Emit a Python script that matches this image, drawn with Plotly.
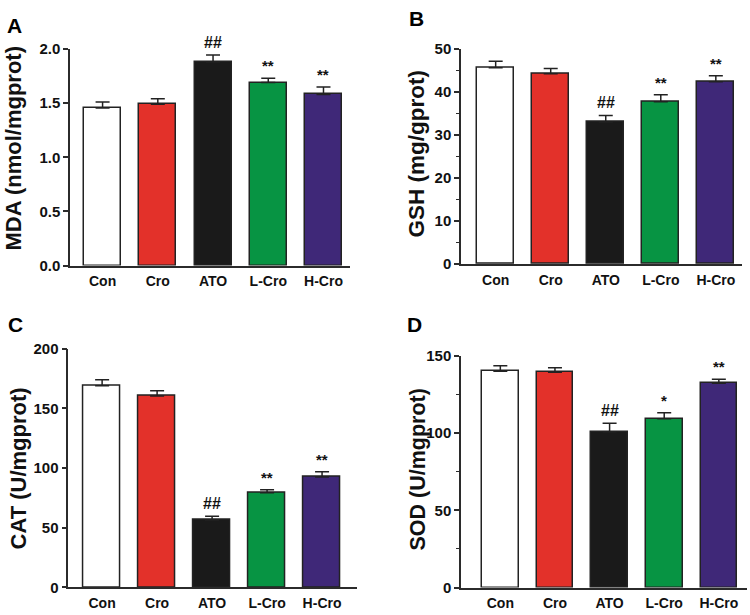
import plotly.graph_objects as go

groups = ["Con", "Cro", "ATO", "L-Cro", "H-Cro"]
colors = ["#FFFFFF", "#E3312A", "#1A1A1A", "#079443", "#3F2878"]

mda_mean = [1.455, 1.49, 1.88, 1.69, 1.58]
mda_sem = [0.055, 0.05, 0.065, 0.04, 0.07]
mda_sig = ["", "", "##", "**", "**"]

gsh_mean = [45.6, 44.2, 33.0, 37.7, 42.3]
gsh_sem = [1.5, 1.2, 1.5, 1.6, 1.4]
gsh_sig = ["", "", "##", "**", "**"]

cat_mean = [169.0, 160.3, 56.4, 79.3, 92.5]
cat_sem = [5.0, 4.5, 3.1, 2.5, 4.4]
cat_sig = ["", "", "##", "**", "**"]

sod_mean = [140.1, 139.4, 100.9, 109.3, 132.3]
sod_sem = [3.6, 3.0, 5.6, 3.9, 2.6]
sod_sig = ["", "", "##", "*", "**"]

W, H = 750, 615
FONT = "Liberation Sans, Arial, sans-serif"
AX = "#2b2b2b"

panels = [
    dict(letter="A", title="MDA (nmol/mgprot)", m=mda_mean, s=mda_sem, sig=mda_sig,
         ymax=2.0, dtick=0.5, minor=None, fmt=".1f", xpx=(70, 350), ypx=(49, 265.5),
         xr=(-0.59, 4.48), tpos=(12.5, 149), tsize=22, lpos=(14, 25)),
    dict(letter="B", title="GSH (mg/gprot)", m=gsh_mean, s=gsh_sem, sig=gsh_sig,
         ymax=50, dtick=10, minor=5, fmt="d", xpx=(461, 741.7), ypx=(48.7, 264),
         xr=(-0.63, 4.47), tpos=(416.5, 154), tsize=22.5, lpos=(416, 19)),
    dict(letter="C", title="CAT (U/mgprot)", m=cat_mean, s=cat_sem, sig=cat_sig,
         ymax=200, dtick=50, minor=None, fmt="d", xpx=(68.3, 356.7), ypx=(348.7, 587.3),
         xr=(-0.615, 4.63), tpos=(17.5, 469), tsize=22, lpos=(15.5, 324)),
    dict(letter="D", title="SOD (U/mgprot)", m=sod_mean, s=sod_sem, sig=sod_sig,
         ymax=150, dtick=50, minor=25, fmt="d", xpx=(461, 746.7), ypx=(356, 587.5),
         xr=(-0.72, 4.51), tpos=(417.5, 470), tsize=21.5, lpos=(414.5, 324.5)),
]

fig = go.Figure()
annotations = []
layout = {}

for i, p in enumerate(panels):
    k = "" if i == 0 else str(i + 1)
    xname, yname = "x" + k, "y" + k
    x_idx = list(range(len(groups)))
    fig.add_trace(go.Bar(
        x=x_idx, y=p["m"], width=0.67,
        marker=dict(color=colors, line=dict(color="#222222", width=1.5)),
        error_y=dict(type="data", symmetric=False, array=p["s"],
                     arrayminus=[0] * len(groups), color="#222222",
                     thickness=1.5, width=7),
        xaxis=xname, yaxis=yname, showlegend=False, hoverinfo="skip",
    ))
    xd = [p["xpx"][0] / W, p["xpx"][1] / W]
    yd = [(H - p["ypx"][1]) / H, (H - p["ypx"][0]) / H]
    layout["xaxis" + k] = dict(
        domain=xd, range=list(p["xr"]), anchor=yname,
        tickvals=x_idx, ticktext=groups, ticks="outside", ticklen=2,
        tickcolor="rgba(0,0,0,0)",
        tickfont=dict(family=FONT, size=14, color="#111111", weight="bold"),
        showline=True, linecolor=AX, linewidth=1.5, showgrid=False, zeroline=False,
        fixedrange=True, automargin=False,
    )
    yax = dict(
        domain=yd, range=[0, p["ymax"]], anchor=xname,
        dtick=p["dtick"], tick0=0, tickformat=p["fmt"],
        ticks="outside", ticklen=5, tickwidth=1.5, tickcolor=AX,
        tickfont=dict(family=FONT, size=15, color="#111111", weight="bold"),
        showline=True, linecolor=AX, linewidth=1.5, showgrid=False, zeroline=False,
        fixedrange=True, automargin=False,
    )
    if p["minor"]:
        yax["minor"] = dict(dtick=p["minor"], tick0=0, ticks="outside", ticklen=3,
                            tickwidth=1.2, tickcolor=AX, showgrid=False)
    layout["yaxis" + k] = yax

    for j, t in enumerate(p["sig"]):
        if t:
            is_hash = t.startswith("#")
            annotations.append(dict(
                x=j, y=p["m"][j] + p["s"][j], xref=xname, yref=yname,
                text=t, showarrow=False, xanchor="center", yanchor="bottom",
                yshift=2 if is_hash else 2,
                font=dict(family=FONT, size=16 if is_hash else 15,
                          color="#111111", weight="bold"),
            ))
    annotations.append(dict(
        x=p["tpos"][0] / W, y=(H - p["tpos"][1]) / H, xref="paper", yref="paper",
        text=p["title"], textangle=-90, showarrow=False,
        xanchor="center", yanchor="middle",
        font=dict(family=FONT, size=p["tsize"], color="#111111", weight="bold"),
    ))
    annotations.append(dict(
        x=p["lpos"][0] / W, y=(H - p["lpos"][1]) / H, xref="paper", yref="paper",
        text=p["letter"], showarrow=False, xanchor="center", yanchor="middle",
        font=dict(family=FONT, size=21, color="#000000", weight="bold"),
    ))

fig.update_layout(
    width=W, height=H,
    margin=dict(l=0, r=0, t=0, b=0),
    paper_bgcolor="white", plot_bgcolor="white",
    annotations=annotations,
    bargap=0,
    **layout,
)

fig.write_html("out.html", config={"displayModeBar": False},
               post_script="document.body.style.margin='0px';")
